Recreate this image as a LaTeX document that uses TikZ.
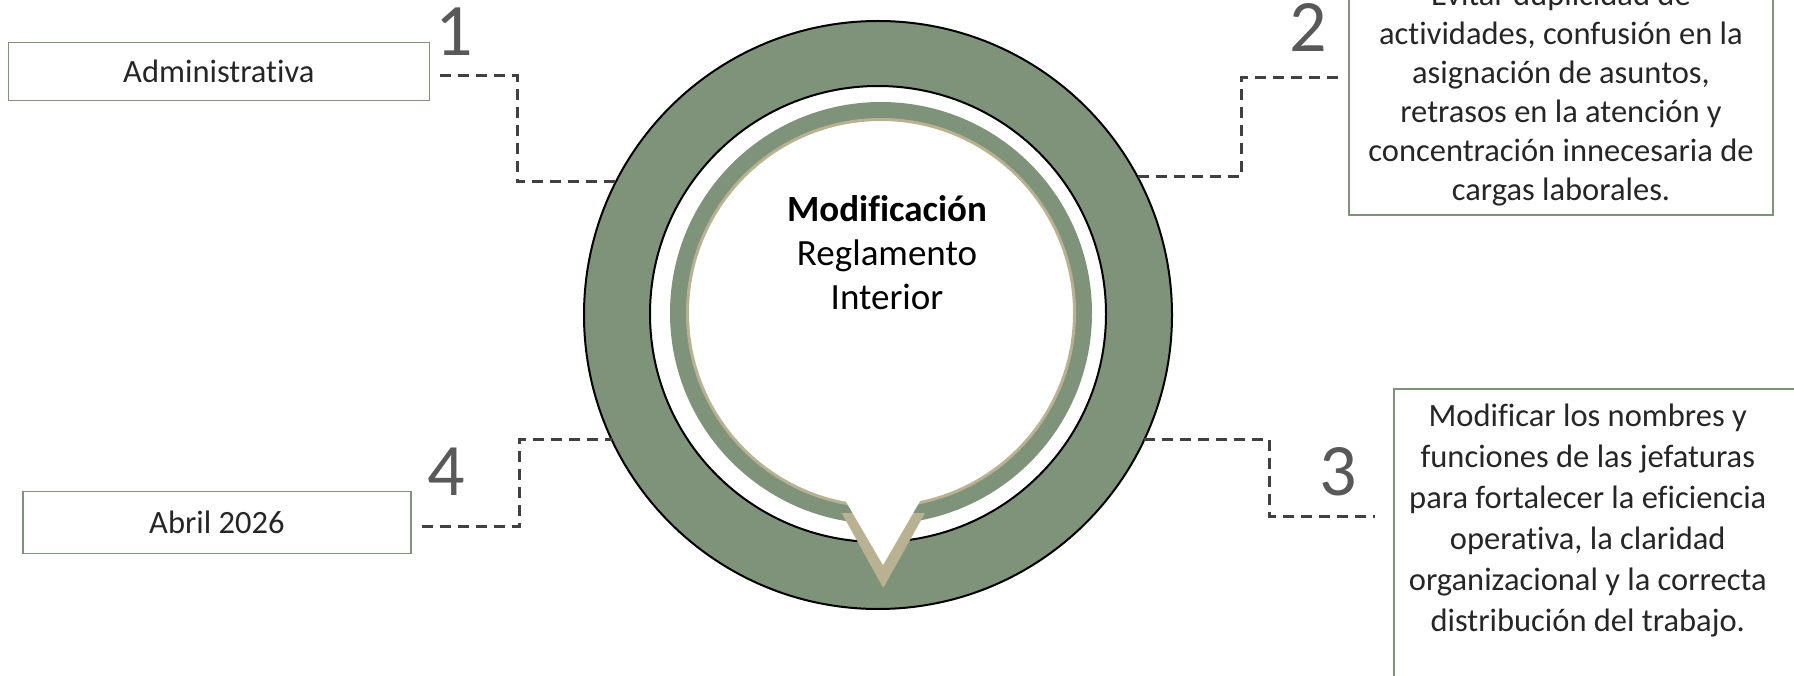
\documentclass[tikz,border=0pt]{standalone}
\usepackage{fontspec}
\setmainfont{Carlito}[Ligatures=NoCommon]
\usetikzlibrary{calc}

\definecolor{ringgreen}{HTML}{7F937B}
\definecolor{ringbeige}{HTML}{B8B292}
\definecolor{dashgray}{HTML}{404040}
\definecolor{numgray}{HTML}{595959}
\definecolor{txtgray}{HTML}{262626}

\tikzset{
  infobox/.style={draw=ringgreen, line width=1.5pt, fill=white, inner sep=0pt, align=center, text=txtgray, font=\fontsize{32.5}{39}\selectfont},
  boxtext/.style={inner sep=0pt, align=center, text=txtgray, font=\fontsize{32.5}{41}\selectfont},
  dashline/.style={draw=dashgray, line width=3pt, dash pattern=on 11pt off 7pt},
  stepnum/.style={inner sep=0pt, text=numgray, font=\fontsize{74}{74}\selectfont},
}

\begin{document}
\begin{tikzpicture}[x=1pt,y=1pt,yscale=-1,xscale=1]
    \useasboundingbox (0,0) rectangle (1794,676);

    %Ring: outer circle
    \node[circle, fill=ringgreen, draw=black, line width=2pt, minimum size=588, inner sep=0pt, outer sep=0pt] (ring) at (878,315) {};
    %Ring: inner white band
    \draw[fill=white, line width=2pt] (878,314) circle (228);
    %Ring: green band with beige edge
    \fill[ringgreen] (881,313) circle (211);
    \draw[draw=ringbeige, fill=white, line width=3pt] (881,313) circle (193.5);
    %Pointer
    \fill[ringbeige] (841.7,513) -- (925,513) -- (883.3,588) -- cycle;
    \fill[white] (845,500) -- (920.7,500) -- (883,565) -- cycle;

    % Text Node
    \node[align=center, inner sep=0pt, font=\fontsize{37}{44}\selectfont] (title) at (887,253) {\textbf{Modificación}\\Reglamento\\Interior};

    %Boxes
    \node[infobox, minimum width=421, minimum height=58] (box1) at (218.8,71.3) {Administrativa};
    \node[infobox, minimum width=424, minimum height=251] (box2) at (1561,89.5) {};
    \node[boxtext, font=\fontsize{32.5}{39}\selectfont] (txt2) at ($(box2.center)+(0,5)$) {Evitar duplicidad de\\actividades, confusión en la\\asignación de asuntos,\\retrasos en la atención y\\concentración innecesaria de\\cargas laborales.};
    \node[infobox, minimum width=408, minimum height=320, anchor=north west] (box3) at (1393,388) {};
    \node[boxtext] (txt3) at ($(box3.north)+(-10,132)$) {Modificar los nombres y\\funciones de las jefaturas\\para fortalecer la eficiencia\\operativa, la claridad\\organizacional y la correcta\\distribución del trabajo.};
    \node[infobox, minimum width=388, minimum height=61.6] (box4) at (216.9,522.5) {Abril 2026};

    %Numbers
    \node[stepnum] (n1) at (454,31.5) {1};
    \node[stepnum] (n2) at (1308,27.5) {2};
    \node[stepnum] (n3) at (1338,471.5) {3};
    \node[stepnum] (n4) at (446,472) {4};

    %Connectors
    \draw[dashline] ($(box1.east)+(10,4.4)$) -- ++(77,0) |- (ring.153);
    \draw[dashline] ($(box2.west)+(-10,-11.5)$) -- ++(-97,0) |- (ring.28);
    \draw[dashline] (ring.-25) -- ++(125.5,0) |- ($(box3.north west)+(-18,128.7)$);
    \draw[dashline] ($(box4.east)+(10,3.5)$) -- ++(98,0) |- (ring.205);

\end{tikzpicture}
\end{document}
